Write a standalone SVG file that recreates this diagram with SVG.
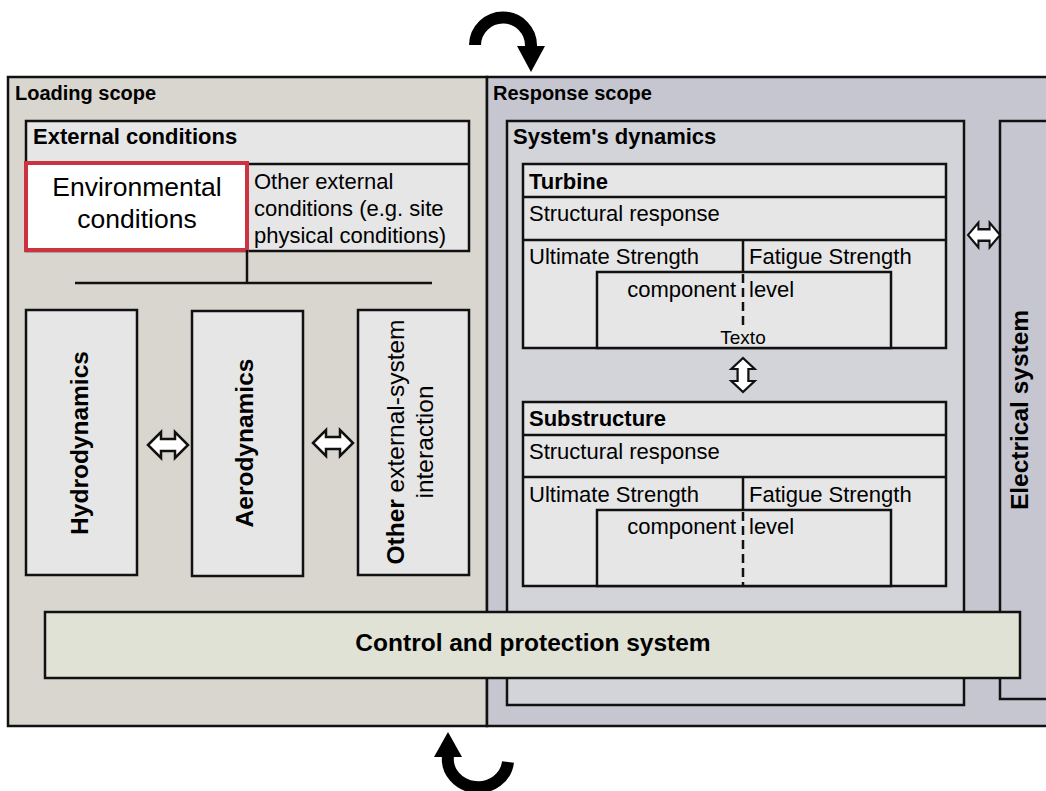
<svg xmlns="http://www.w3.org/2000/svg" width="1046" height="791" viewBox="0 0 1046 791">
<style>
text{font-family:"Liberation Sans",Arial,sans-serif;fill:#000}
.b{font-weight:bold}
.box{stroke:#111;stroke-width:2.5}
.inner{fill:#e6e6e6;stroke:#111;stroke-width:2.5}
.ln{stroke:#111;stroke-width:2.5;fill:none}
.dash{stroke:#111;stroke-width:2.5;stroke-dasharray:9,5;fill:none}
.dbl{fill:#fff;stroke:#111;stroke-width:2.5;stroke-linejoin:miter}
.curve{fill:none;stroke:#000;stroke-width:12}
.t{font-size:22px}
.v{font-size:24.5px}
</style>
<defs>
<path id="darr" d="M-20,0 L-7,-13 L-7,-6 L7,-6 L7,-13 L20,0 L7,13 L7,6 L-7,6 L-7,13 Z"/>
</defs>
<rect width="1046" height="791" fill="#fff"/>
<g id="loading-scope">
<rect class="box" x="8" y="77" width="479" height="649" fill="#d9d6cf"/>
<text class="b" x="15" y="100" font-size="20">Loading scope</text>
</g>
<g id="response-scope">
<rect class="box" x="487" y="77" width="562" height="649" fill="#c6c6d0"/>
<text class="b" x="493" y="100" font-size="20">Response scope</text>
</g>
<g id="systems-dynamics">
<rect class="box" x="507" y="121" width="457" height="584" fill="#d3d4d9"/>
<text class="b t" x="513" y="144">System's dynamics</text>
</g>
<g id="electrical-system">
<rect class="box" x="1000" y="121" width="49" height="578" fill="#c6c6d0"/>
<text class="b v" text-anchor="middle" transform="translate(1028,410) rotate(-90)">Electrical system</text>
</g>
<g id="external-conditions">
<rect class="inner" x="26" y="121" width="443" height="130"/>
<line class="ln" x1="26" y1="164" x2="469" y2="164"/>
<text class="b t" x="33" y="144">External conditions</text>
<text class="t" x="254" y="189">Other external</text>
<text class="t" x="254" y="216">conditions (e.g. site</text>
<text class="t" x="254" y="243">physical conditions)</text>
</g>
<g id="environmental-conditions">
<rect x="26" y="163" width="221" height="87" fill="#fff" stroke="#cc3340" stroke-width="4"/>
<text x="137" y="196" font-size="26.5" text-anchor="middle">Environmental</text>
<text x="137" y="228" font-size="26.5" text-anchor="middle">conditions</text>
</g>
<g id="hydrodynamics">
<rect class="inner" x="26" y="310" width="111" height="265"/>
<text class="b v" text-anchor="middle" transform="translate(88,443) rotate(-90)">Hydrodynamics</text>
</g>
<g id="aerodynamics">
<rect class="inner" x="192" y="311" width="111" height="265"/>
<text class="b v" text-anchor="middle" transform="translate(253,443) rotate(-90)">Aerodynamics</text>
</g>
<g id="other-interaction">
<rect class="inner" x="358" y="310" width="111" height="265"/>
<text class="v" text-anchor="middle" transform="translate(404,442) rotate(-90)"><tspan class="b">Other</tspan> external-system</text>
<text class="v" text-anchor="middle" transform="translate(433,442) rotate(-90)">interaction</text>
</g>
<g id="turbine">
<rect class="inner" x="523" y="164" width="423" height="184"/>
<line class="ln" x1="523" y1="197" x2="946" y2="197"/>
<line class="ln" x1="523" y1="240" x2="946" y2="240"/>
<line class="ln" x1="743" y1="240" x2="743" y2="272"/>
<rect class="inner" x="597" y="272" width="294" height="76"/>
<line class="dash" x1="743" y1="274" x2="743" y2="326"/>
<text class="b t" x="529" y="189">Turbine</text>
<text class="t" x="529" y="221">Structural response</text>
<text class="t" x="529" y="264">Ultimate Strength</text>
<text class="t" x="749" y="264">Fatigue Strength</text>
<text class="t" x="736" y="297" text-anchor="end">component</text>
<text class="t" x="749" y="297">level</text>
<text x="743" y="344" font-size="19" text-anchor="middle">Texto</text>
</g>
<g id="substructure">
<rect class="inner" x="523" y="402" width="423" height="184"/>
<line class="ln" x1="523" y1="435" x2="946" y2="435"/>
<line class="ln" x1="523" y1="477" x2="946" y2="477"/>
<line class="ln" x1="743" y1="477" x2="743" y2="510"/>
<rect class="inner" x="597" y="510" width="294" height="76"/>
<line class="dash" x1="743" y1="512" x2="743" y2="586"/>
<text class="b t" x="529" y="426">Substructure</text>
<text class="t" x="529" y="459">Structural response</text>
<text class="t" x="529" y="502">Ultimate Strength</text>
<text class="t" x="749" y="502">Fatigue Strength</text>
<text class="t" x="736" y="534" text-anchor="end">component</text>
<text class="t" x="749" y="534">level</text>
</g>
<g id="control-protection">
<rect class="box" x="45" y="612" width="975" height="66" fill="#e1e2d6"/>
<text class="b v" x="533" y="651" text-anchor="middle">Control and protection system</text>
</g>
<g id="connectors">
<line class="ln" x1="247" y1="250" x2="247" y2="283"/>
<line class="ln" x1="75" y1="283" x2="432" y2="283"/>
<use href="#darr" class="dbl" transform="translate(168,445)"/>
<use href="#darr" class="dbl" transform="translate(333,443)"/>
<use href="#darr" class="dbl" transform="translate(984,235) scale(0.8,0.95)"/>
<use href="#darr" class="dbl" transform="translate(743,375) rotate(90) scale(0.85,0.9)"/>
<path class="curve" d="M475,45 A28,28 0 0 1 531,46"/>
<polygon points="517,46 545,46 531,72" fill="#000"/>
<path class="curve" d="M448,756 A30,28 0 0 0 508,762"/>
<polygon points="434,757 462,757 448,732" fill="#000"/>
</g>
</svg>
